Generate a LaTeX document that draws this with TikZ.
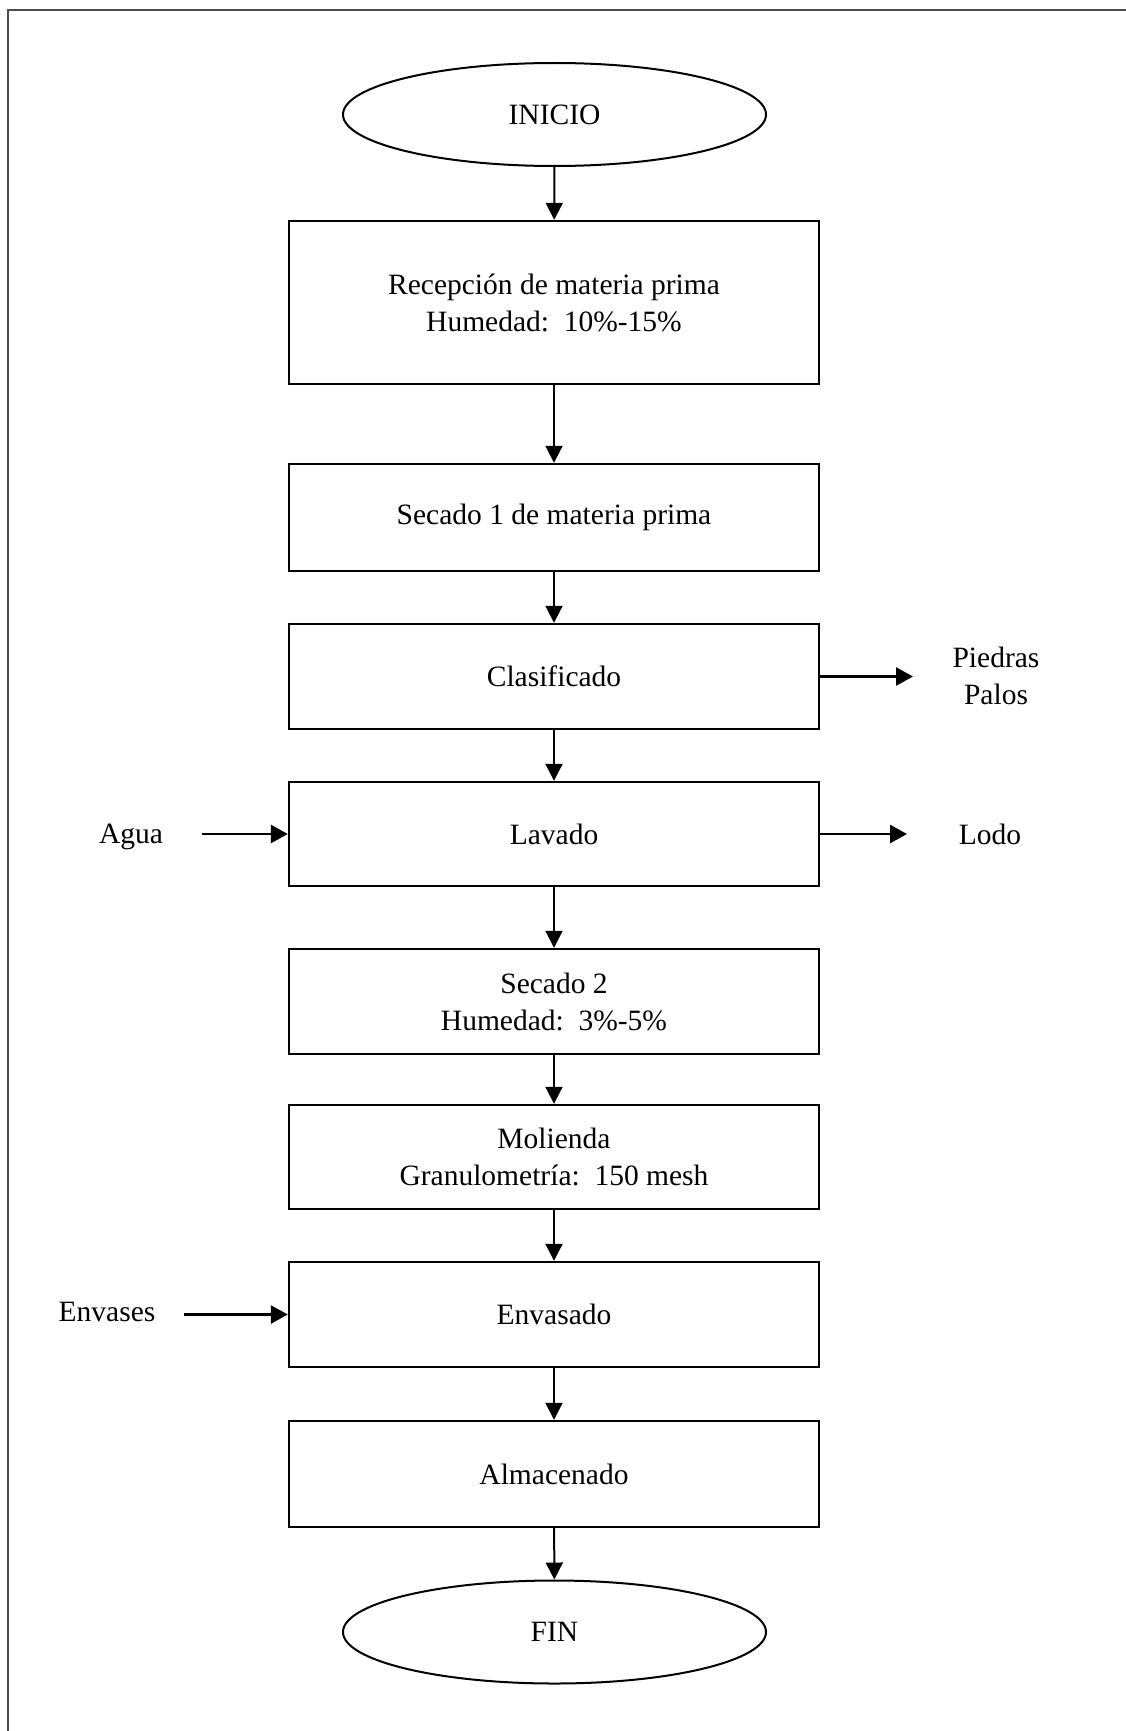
\documentclass[tikz,border=0pt]{standalone}
\usepackage{fontspec}
\setmainfont{Liberation Serif}
\usetikzlibrary{arrows.meta,shapes.geometric}

\tikzset{
  txt/.style={font=\fontsize{29.5}{37}\selectfont},
  stepbox/.style={draw=black, line width=2.4pt, rectangle, minimum width=530pt,
    inner sep=0pt, align=center, txt},
  terminal/.style={draw=black, line width=2pt, ellipse, minimum width=423pt,
    minimum height=103pt, inner sep=0pt, txt},
  label/.style={align=center, inner sep=0pt, txt},
  flow/.style={line width=2pt, -{Triangle[length=17pt,width=17pt]}},
  side/.style={line width=2.7pt, -{Triangle[length=17pt,width=18pt]}},
  frameline/.style={draw=black!70, line width=1.6pt}
}

\begin{document}
\begin{tikzpicture}[x=1pt, y=-1pt]
  \useasboundingbox (0,0) rectangle (1126,1731);

  % page frame (top and left edges)
  \draw[frameline] (8,1731) -- (8,10) -- (1126,10);

  % process chain
  \node[terminal] (ini) at (554.5,114.5) {INICIO};
  \node[stepbox, minimum height=163pt] (rec) at (554,302.5)
    {Recepción de materia prima\\Humedad:\ \ 10\%-15\%};
  \node[stepbox, minimum height=107pt] (sec1) at (554,517.5)
    {Secado 1 de materia prima};
  \node[stepbox, minimum height=105pt] (cla) at (554,676.5) {Clasificado};
  \node[stepbox, minimum height=104pt] (lav) at (554,834) {Lavado};
  \node[stepbox, minimum height=105pt] (sec2) at (554,1001.5)
    {Secado 2\\Humedad:\ \ 3\%-5\%};
  \node[stepbox, minimum height=104pt] (mol) at (554,1157)
    {Molienda\\Granulometría:\ \ 150 mesh};
  \node[stepbox, minimum height=105pt] (env) at (554,1314.5) {Envasado};
  \node[stepbox, minimum height=106pt] (alm) at (554,1474) {Almacenado};
  \node[terminal] (fin) at (554.5,1632) {FIN};

  % side streams
  \node[label] (pie) at (996,676) {Piedras\\Palos};
  \node[label] (lodo) at (990,834) {Lodo};
  \node[label] (agua) at (131,837) {Agua};
  \node[label] (envs) at (107,1312) {Envases};

  \coordinate (pieTip) at (913,676.5);
  \coordinate (lodoTip) at (907,834);
  \coordinate (aguaTail) at (202,834);
  \coordinate (envsTail) at (184,1314.5);

  % vertical connectors
  \draw[flow] (ini) -- (rec);
  \draw[flow] (rec) -- (sec1);
  \draw[flow] (sec1) -- (cla);
  \draw[flow] (cla) -- (lav);
  \draw[flow] (lav) -- (sec2);
  \draw[flow] (sec2) -- (mol);
  \draw[flow] (mol) -- (env);
  \draw[flow] (env) -- (alm);
  \draw[flow] (alm) -- (fin);

  % horizontal connectors
  \draw[side] (cla.east) -- (pieTip);
  \draw[side] (lav.east) -- (lodoTip);
  \draw[side] (aguaTail) -- (lav.west);
  \draw[side] (envsTail) -- (env.west);
\end{tikzpicture}
\end{document}
